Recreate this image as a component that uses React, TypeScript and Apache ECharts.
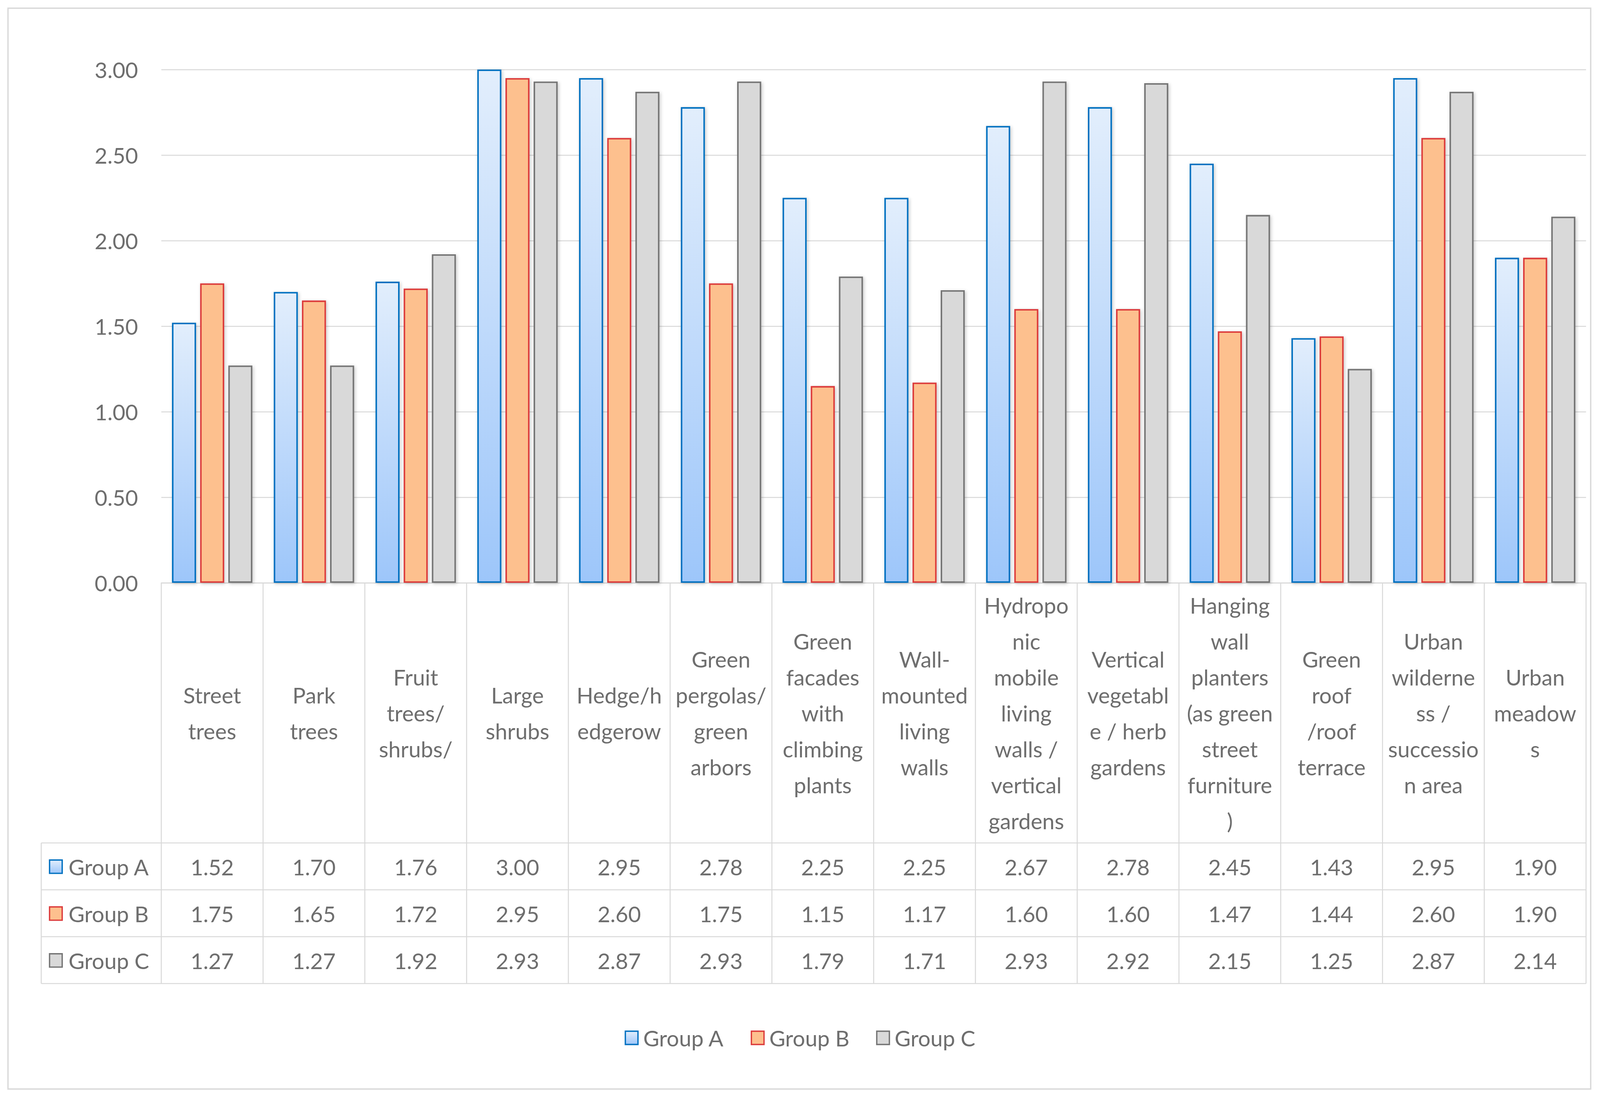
import React, { useEffect, useRef } from "react";
import * as echarts from "echarts";

// ---------- data ----------
const categoryLabels = [
  "Street\ntrees",
  "Park\ntrees",
  "Fruit\ntrees/\nshrubs/",
  "Large\nshrubs",
  "Hedge/h\nedgerow",
  "Green\npergolas/\ngreen\narbors",
  "Green\nfacades\nwith\nclimbing\nplants",
  "Wall-\nmounted\nliving\nwalls",
  "Hydropo\nnic\nmobile\nliving\nwalls /\nvertical\ngardens",
  "Vertical\nvegetabl\ne / herb\ngardens",
  "Hanging\nwall\nplanters\n(as green\nstreet\nfurniture\n)",
  "Green\nroof\n/roof\nterrace",
  "Urban\nwilderne\nss /\nsuccessio\nn area",
  "Urban\nmeadow\ns",
];
const groupNames = ["Group A", "Group B", "Group C"];
const groupA = [1.52, 1.7, 1.76, 3.0, 2.95, 2.78, 2.25, 2.25, 2.67, 2.78, 2.45, 1.43, 2.95, 1.9];
const groupB = [1.75, 1.65, 1.72, 2.95, 2.6, 1.75, 1.15, 1.17, 1.6, 1.6, 1.47, 1.44, 2.6, 1.9];
const groupC = [1.27, 1.27, 1.92, 2.93, 2.87, 2.93, 1.79, 1.71, 2.93, 2.92, 2.15, 1.25, 2.87, 2.14];
const yMin = 0;
const yMax = 3;
const yStep = 0.5;

// ---------- styles ----------
const FONT = "Lato";
const TEXT = "#6e6e6e";
const LINE = "#d9d9d9";
const BASE_W = 4811;
const BASE_H = 2811;

const makeFills = () => [
  new echarts.graphic.LinearGradient(0, 0, 0, 1, [
    { offset: 0, color: "#e2eefc" },
    { offset: 1, color: "#9dc6fa" },
  ]),
  "#fdc08e",
  "#d9d9d9",
];
const borders = ["#0070c0", "#dc3b3b", "#747474"];

export default function App() {
  const ref = useRef<HTMLDivElement>(null);

  useEffect(() => {
    const el = ref.current;
    if (!el) return;
    const W = el.clientWidth || BASE_W;
    const H = el.clientHeight || BASE_H;
    const sx = W / BASE_W;
    const sy = H / BASE_H;
    const sf = Math.min(sx, sy);
    const X = (v: number) => v * sx;
    const Y = (v: number) => v * sy;
    const FS = 66 * sf;

    const chart = echarts.init(el, null, { renderer: "svg", width: W, height: H });
    const seriesData = [groupA, groupB, groupC];
    const f = makeFills();

    const gridLeft = X(485);
    const gridRight = X(42);
    const gridTop = Y(178);
    const axisY = Y(1492);

    chart.setOption({
      animation: false,
      backgroundColor: "#ffffff",
      textStyle: { fontFamily: FONT },
      grid: {
        left: gridLeft,
        right: gridRight,
        top: gridTop,
        bottom: H - axisY,
        containLabel: false,
        outerBoundsMode: "none",
      },
      legend: {
        data: groupNames,
        left: "center",
        top: Y(2624),
        icon: "rect",
        itemWidth: 38 * sf,
        itemHeight: 40 * sf,
        itemGap: 80 * sx,
        textStyle: {
          fontFamily: FONT,
          fontSize: FS,
          color: TEXT,
          padding: [0, 0, 0, 10 * sf],
        },
        itemStyle: { shadowBlur: 0, borderWidth: 4 * sf },
      },
      xAxis: {
        type: "category",
        data: categoryLabels,
        axisTick: { show: false },
        axisLine: { show: true, lineStyle: { color: LINE, width: 3 * sf } },
        axisLabel: {
          interval: 0,
          margin: Y(333),
          verticalAlign: "middle",
          align: "center",
          lineHeight: 92 * sy,
          fontSize: FS,
          fontFamily: FONT,
          color: TEXT,
        },
        splitLine: { show: false },
      },
      yAxis: {
        type: "value",
        min: yMin,
        max: yMax,
        interval: yStep,
        axisLine: { show: false },
        axisTick: { show: false },
        axisLabel: {
          margin: X(70),
          fontSize: FS,
          fontFamily: FONT,
          color: TEXT,
          formatter: (v: number) => v.toFixed(2),
        },
        splitLine: { lineStyle: { color: LINE, width: 3 * sf } },
      },
      series: groupNames.map((name, i) => ({
        name,
        type: "bar",
        data: seriesData[i],
        barCategoryGap: "21%",
        barGap: "17%",
        itemStyle: {
          color: f[i],
          borderColor: borders[i],
          borderWidth: 4.5 * sf,
          shadowBlur: 10 * sf,
          shadowColor: "rgba(0,0,0,0.22)",
          shadowOffsetX: 3 * sf,
          shadowOffsetY: 3 * sf,
        },
      })),
    });

    // ---------- data table built from axis geometry ----------
    const c0 = chart.convertToPixel({ xAxisIndex: 0 }, 0) as number;
    const c1 = chart.convertToPixel({ xAxisIndex: 0 }, 1) as number;
    const bw = c1 - c0;
    const base = chart.convertToPixel({ yAxisIndex: 0 }, 0) as number;
    const n = categoryLabels.length;
    const leftEdge = c0 - bw / 2;
    const rightEdge = leftEdge + bw * n;
    const tableLeft = X(124);
    const rowTop = Y(2158);
    const rowH = Y(120);
    const tableBottom = rowTop + rowH * groupNames.length;
    const lw = 3 * sf;

    const els: any[] = [];
    els.push({
      type: "rect",
      z: -10,
      shape: { x: X(24), y: Y(21), width: X(4783 - 24), height: Y(2788 - 21) },
      style: { fill: "none", stroke: "#d9d9d9", lineWidth: 4 * sf },
    });
    for (let k = 0; k <= n; k++) {
      const x = leftEdge + bw * k;
      els.push({
        type: "line",
        shape: { x1: x, y1: base, x2: x, y2: tableBottom },
        style: { stroke: LINE, lineWidth: lw },
      });
    }
    els.push({
      type: "line",
      shape: { x1: tableLeft, y1: rowTop, x2: tableLeft, y2: tableBottom },
      style: { stroke: LINE, lineWidth: lw },
    });
    for (let r = 0; r <= groupNames.length; r++) {
      const y = rowTop + rowH * r;
      els.push({
        type: "line",
        shape: { x1: tableLeft, y1: y, x2: rightEdge, y2: y },
        style: { stroke: LINE, lineWidth: lw },
      });
    }
    groupNames.forEach((name, r) => {
      const cy = rowTop + rowH * r + rowH / 2;
      els.push({
        type: "rect",
        shape: { x: X(149), y: cy - 19 * sf, width: 38 * sf, height: 40 * sf },
        style: { fill: f[r], stroke: borders[r], lineWidth: 4 * sf },
      });
      els.push({
        type: "text",
        x: X(206),
        y: cy + 2 * sf,
        style: {
          text: name,
          fill: TEXT,
          fontSize: FS,
          fontFamily: FONT,
          align: "left",
          verticalAlign: "middle",
        },
      });
      seriesData[r].forEach((v, k) => {
        els.push({
          type: "text",
          x: c0 + bw * k,
          y: cy + 2 * sf,
          style: {
            text: v.toFixed(2),
            fill: TEXT,
            fontSize: FS,
            fontFamily: FONT,
            align: "center",
            verticalAlign: "middle",
          },
        });
      });
    });

    chart.setOption({ graphic: { elements: els } });

    return () => chart.dispose();
  }, []);

  return (
    <div
      ref={ref}
      style={{ position: "fixed", left: 0, top: 0, width: "100vw", height: "100vh", background: "#fff" }}
    />
  );
}
